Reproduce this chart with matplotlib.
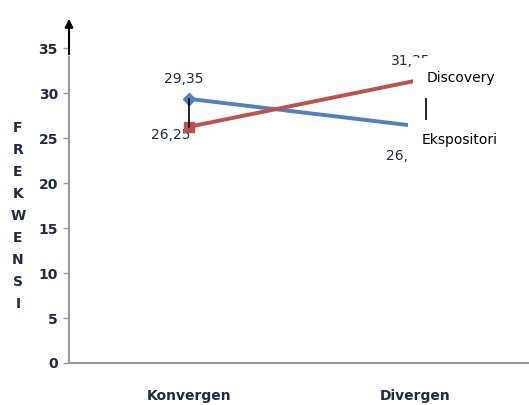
import matplotlib
matplotlib.use("Agg")
import matplotlib.pyplot as plt
from matplotlib import font_manager

categories = ["Konvergen", "Divergen"]
discovery = [26.25, 31.35]
ekspositori = [29.35, 26.35]
disc_labels = ["26,25", "31,35"]
eksp_labels = ["29,35", "26,35"]
yticks = [0, 5, 10, 15, 20, 25, 30, 35]
ylabel = "FREKWENSI"

names = {f.name for f in font_manager.fontManager.ttflist}
narrow = "Liberation Sans Narrow" if "Liberation Sans Narrow" in names else "DejaVu Sans"
plt.rcParams['font.family'] = [narrow, 'DejaVu Sans']

W, H = 529, 405
fig = plt.figure(figsize=(W/100, H/100), dpi=100)
ax = fig.add_axes([69/W, 1-363/H, 460/W, 347/H])
x = list(range(len(categories)))
ax.set_xlim(-0.531, 1.504)
ax.set_ylim(0, 38.56)

blue = "#4F81BD"
red = "#C0504D"
txt = "#1F2A44"

# high-low line at first category
ax.plot([x[0], x[0]], [ekspositori[0], discovery[0]], color="black", lw=1.2, zorder=5)
# high-low line at second category (partly hidden by the labels)
ax.plot([x[1]+0.047, x[1]+0.047], [discovery[1], ekspositori[1]], color="black", lw=1.2, zorder=2)

ax.plot(x, ekspositori, color=blue, lw=2.8, marker="D", markersize=6, markevery=[0], zorder=3)
ax.plot(x, discovery, color=red, lw=2.8, marker="s", markersize=7.5, markevery=[0], zorder=4)

# data labels
ax.annotate(eksp_labels[0], (x[0], ekspositori[0]), xytext=(-4, 14), textcoords="offset points",
            ha="center", va="center", fontsize=10, color=txt)
ax.annotate(disc_labels[0], (x[0], discovery[0]), xytext=(-13, -6), textcoords="offset points",
            ha="center", va="center", fontsize=10, color=txt)
ax.annotate(disc_labels[1], (x[1], discovery[1]), xytext=(-3, 14), textcoords="offset points",
            ha="center", va="center", fontsize=10, color=txt, zorder=1)
ax.annotate(eksp_labels[1], (x[1], ekspositori[1]), xytext=(-7, -22), textcoords="offset points",
            ha="center", va="center", fontsize=10, color=txt, zorder=1)

# series labels with white boxes
ax.annotate("Discovery", (x[1], discovery[1]), xytext=(33, 2), textcoords="offset points",
            ha="center", va="center", fontsize=10, color="black", zorder=6,
            bbox=dict(boxstyle="square,pad=0.95", fc="white", ec="none"))
ax.annotate("Ekspositori", (x[1], ekspositori[1]), xytext=(32, -10), textcoords="offset points",
            ha="center", va="center", fontsize=10, color="black", zorder=6,
            bbox=dict(boxstyle="square,pad=0.95", fc="white", ec="none"))

# axes styling
for s in ["top", "right"]:
    ax.spines[s].set_visible(False)
ax.spines["left"].set_color("#999999")
ax.spines["bottom"].set_color("#999999")
ax.spines["left"].set_linewidth(1.5)
ax.spines["bottom"].set_linewidth(1.5)
ax.spines["left"].set_bounds(0, 34)
ax.annotate("", xy=(0, 1), xycoords="axes fraction", xytext=(0, 34/38.56),
            arrowprops=dict(arrowstyle="-|>", color="black", lw=1.5, mutation_scale=12))

ax.set_yticks(yticks)
ax.set_yticklabels([str(v) for v in yticks], fontsize=10, fontweight="bold", color=txt)
ax.tick_params(axis="y", length=4, color="#999999", width=1, pad=4)
ax.set_xticks(x)
ax.set_xticklabels(categories, fontsize=10, fontweight="bold", color=txt)
ax.tick_params(axis="x", length=0, pad=19)

for i, ch in enumerate(ylabel):
    fig.text(18/W, 1-(128 + i*22.0)/H, ch, ha="center", va="center",
             fontsize=10, fontweight="bold", color=txt)

fig.savefig("out.png", dpi=100)
